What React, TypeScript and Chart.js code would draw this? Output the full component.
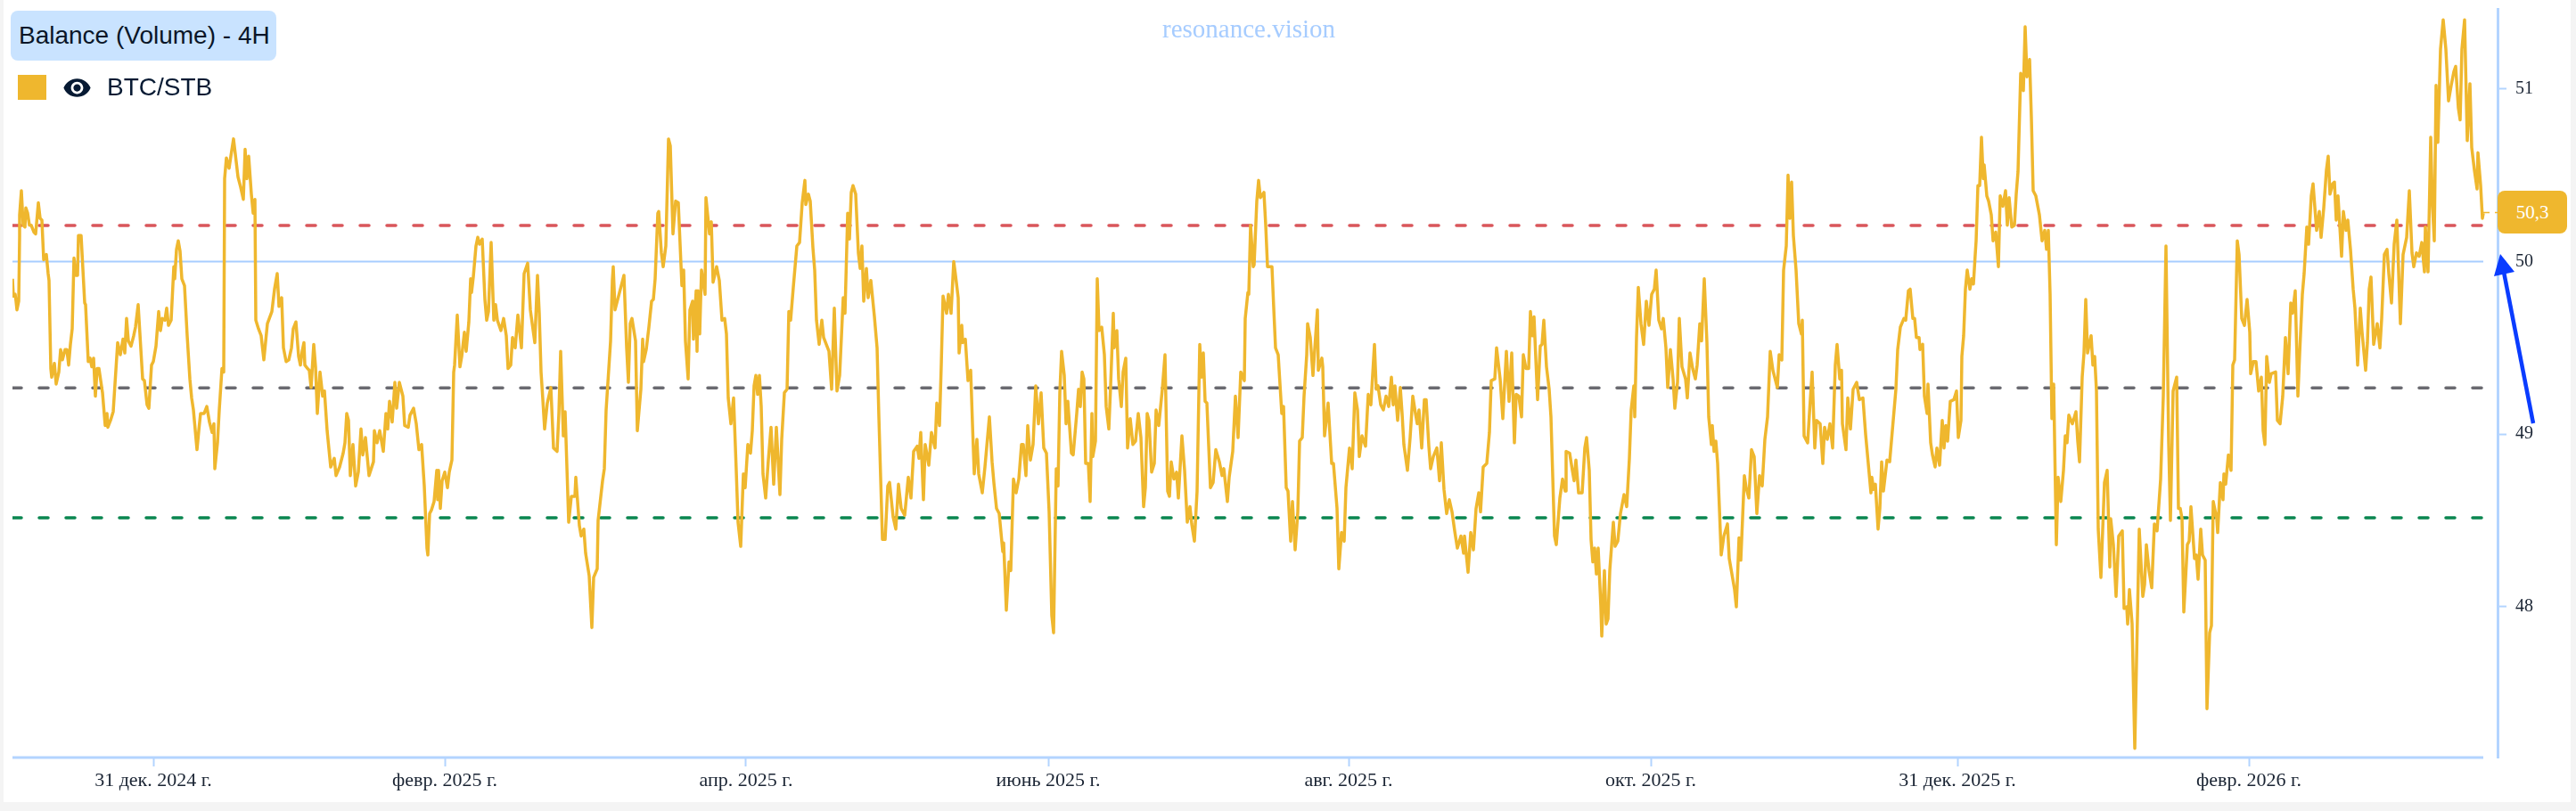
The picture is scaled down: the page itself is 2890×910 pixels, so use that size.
import { useRef, useEffect } from "react";
import { Chart, registerables } from "chart.js";

Chart.register(...registerables);

const AXIS_BLUE = "#b3d4ff";
const BTC_COLOR = "#efb72e";

// 4H bar index of every reading taken off the curve
const bars = [
  0,1,3,4,5,7,8,8,10,12,14,15,17,19,21,24,26,29,31,33,35,38,40,41,43,44,47,49,52,54,56,59,61,63,65,67,69,71,73,74,77,81,82,85,87,89,91,93,95,97,
  101,104,106,107,110,113,118,121,124,126,128,130,133,136,138,141,146,148,151,153,156,158,161,164,166,168,171,173,175,178,181,182,184,186,188,190,193,196,199,201,203,207,209,211,215,218,221,224,226,227,
  230,232,235,237,238,240,243,245,248,253,256,259,261,263,265,268,270,272,273,276,279,282,286,291,294,297,299,302,304,307,310,313,315,318,321,323,325,327,328,331,333,335,338,340,342,345,348,350,353,357,
  361,363,367,371,373,375,377,379,382,385,388,391,393,396,400,405,406,409,412,416,419,421,423,426,429,431,434,438,440,444,446,450,453,456,459,462,465,466,468,470,473,476,477,478,480,482,485,488,490,493,
  495,496,499,502,504,507,509,512,514,515,517,520,522,524,527,530,532,534,537,540,542,544,548,551,554,556,559,561,564,567,571,574,578,581,586,589,591,593,595,597,600,604,607,611,613,615,618,620,624,627,
  631,632,636,638,641,643,647,650,652,656,657,662,664,666,669,671,673,674,676,
  686,689,691,693,695,699,701,705,707,708,711,714,717,719,721,724,725,728,730,733,736,738,741,744,747,751,753,755,758,760,763,764,767,768,769,771,773,777,778,782,784,786,790,793,796,799,801,803,806,809,
  812,814,817,820,822,825,828,830,832,834,836,838,840,842,845,848,851,854,857,861,863,866,869,871,873,876,880,883,886,889,890,893,895,898,900,902,905,908,910,913,916,919,922,925,928,932,934,937,939,941,
  943,946,949,951,953,955,958,960,963,967,970,972,976,979,982,984,988,991,994,997,1001,1005,1008,1011,1015,1017,1019,1022,1024,1028,1031,1035,1037,1040,1042,1044,1048,1050,1053,1056,1058,1061,1062,1065,1066,1069,1072,1075,1077,1079,
  1082,1084,1088,1091,1096,1099,1101,1104,1107,1111,1112,1115,1118,1120,1123,1126,1129,1132,1134,1137,1139,1142,1145,1148,1151,1154,1157,1160,1163,1166,1168,1171,1173,1175,1177,1180,1182,1184,1188,1190,1194,1196,1198,1200,1202,1204,1207,1209,1211,1212,
  1215,1217,1219,1222,1225,1227,1230,1232,1235,1236,1239,1241,1244,1246,1249,1251,1254,1257,1260,1263,1266,1269,1271,1273,1275,1278,1281,1283,1286,1290,1293,1296,1298,1300,1303,1306,1308,1312,1315,1318,1321,1323,1326,1329,1332,1334,1336,1338,1340,1344,
  1347,1350,1354,1357,1359,1363,1365,1369,1372,1375,1378,1382,1383,1386,
  1387,1389,1392,1393,1396,1398,1400,1404,1406,1408,1413,1415,1417,1420,1424,1426,1429,1431,1434,1436,1439,1442,1444,1447,1449,1452,1453,1456,1459,1464,1465,1469,1470,1472,1476,1480,1482,1486,1488,1491,1494,1496,1500,1503,1506,1509,1511,1514,1518,1521,
  1524,1528,1530,1532,1535,1538,1541,1544,1547,1549,1551,1554,1557,1559,1561,1565,1568,1571,1574,1576,1578,1581,1584,1586,1589,1591,1594,1598,1601,1603,1606,1609,1612,1615,1618,1621,1625,1628,1629,1633,1636,1639,1642,1645,1647,1650,1654,1657,1659,1663,
  1665,1669,1672,1676,1679,1682,1685,1687,1690,1693,1695,1698,1701,1703,1705,1707,1711,1714,1716,1718,1721,1724,1726,1730,1732,1736,1739,1742,1743,1747,1750,1752,1754,1757,1761,1764,1766,1769,1771,1773,1775,1777,1779,1782,1783,1786,1788,1790,1792,1796,
  1798,1801,1804,1808,1811,1814,1816,1819,1820,1822,1824,1827,1830,1833,1836,1839,1842,1844,1847,1850,1852,1855,1857,1860,1863,1865,1868,1870,1873,1877,1879,1882,1885,1888,1890,1893,1895,1898,1901,1903,1906,1907,1909,1911,1913,1915,1917,1920,1924,1926,
  1929,1932,1934,1937,1939,1943,1945,1948,1951,1954,1957,1960,1963,1966,1969,1972,1975,1980,1982,1985,1987,1990,1992,1994,1996,1998,2001,2004,2007,2008,2010,2014,2016,2019,2022,2024,2028,2031,2033,2036,2039,2042,2045,2047,2050,2052,2053,2057,2059,2062,
  2065,2069,2072,2076,2079,2082,2085,
  2086,2088,2090,2093,2095,2097,2099,2103,2106,2109,2113,2115,2118,2122,2124,2127,2129,2132,2134,2136,2139,2140,2143,2145,2148,2149,2152,2154,2157,2159,2162,2165,2167,2169,2171,2174,2178,2181,2183,2186,2187,2189,2191,2193,2196,2198,2200,2202,2203,2205,
  2207,2209,2211,2212,2215,2217,2220,2222,2225,2228,2230,2233,2236,2238,2240,2243,2246,2248,2250,2253,2256,2258,2260,2263,2265,2267,2270,2274,2277,2280,2282,2284,2286,2288,2290,2293,2295,2298,2301,2303,2305,2307,2311,2315,2317,2319,2322,2324,2326,2328,
  2332,2334,2336,2338,2340,2343,2347,2350,2353,2354,2357,2360,2363,2367,2369,2372,2373,2375,2378,2381,2382,2386,2390,2392,2394,2397,2400,2403,2406,2410,2413,2416,2419,2421,2424,2428,2430,2432,2434,2436,2440,2442,2444,2448,2450,2452,2455,2457,2460,2462,
  2465,2467,2469,2473,2474,2477,2480,2481,2483,2486,2489,2491,2493,2496,2498,2501,2504,2507,2510,2511,2514,2517,2520,2523,2525,2527,2529,2532,2534,2539,2541,2544,2547,2550,2553,2556,2558,2561,2564,2566,2569,2571,2574,2576,2579,2581,2585,2588,2590,2593,
  2596,2598,2600,2603,2605,2607,2609,2613,2615,2618,2620,2623,2626,2628,2631,2634,2636,2640,2642,2644,2646,2649,2653,2656,2658,2661,2664,2666,2669,2672,2675,2679,2682,2686,2689,2692,2694,2697,2700,2703,2706,2707,2710,2713,2715,2717,2719,2721,2724,2727,
  2730,2733,2736,2739,2741,2744,2746,2748,2751,2754,2757,2759,2762,2765,2766,2769,2771,2772,
];

const balance = [
  49.90,49.80,49.81,49.77,49.72,49.77,50.15,50.27,50.41,50.21,50.20,50.31,50.28,50.21,50.21,50.17,50.16,50.34,50.25,50.24,50.01,50.04,49.93,49.89,49.38,49.33,49.41,49.29,49.36,49.49,49.43,49.49,49.49,49.40,49.52,49.61,50.02,49.92,49.92,50.15,50.15,49.76,49.75,49.42,49.44,49.39,49.44,49.22,49.38,49.38,
  49.24,49.05,49.12,49.04,49.08,49.13,49.53,49.46,49.55,49.47,49.67,49.54,49.51,49.57,49.62,49.75,49.32,49.31,49.17,49.15,49.40,49.42,49.51,49.71,49.60,49.67,49.66,49.73,49.63,49.66,49.97,49.90,50.07,50.12,50.06,49.90,49.86,49.57,49.32,49.21,49.14,48.91,49.02,49.12,49.12,49.16,49.07,49.01,49.06,48.80,
  48.95,49.14,49.38,49.36,50.48,50.60,50.54,50.61,50.71,50.49,50.43,50.36,50.65,50.48,50.61,50.39,50.28,50.36,49.66,49.61,49.57,49.43,49.64,49.71,49.84,49.93,49.74,49.79,49.50,49.42,49.43,49.50,49.61,49.65,49.45,49.40,49.48,49.53,49.40,49.38,49.37,49.27,49.52,49.39,49.12,49.36,49.22,49.25,49.02,48.81,
  48.86,48.76,48.81,48.89,48.95,49.12,49.08,48.76,48.94,48.70,48.78,49.03,48.88,48.98,48.76,48.84,49.02,48.95,49.02,48.90,49.12,49.03,49.19,49.07,49.30,49.15,49.30,49.22,49.05,49.04,49.11,49.15,49.06,48.91,48.94,48.70,48.34,48.30,48.54,48.56,48.61,48.79,48.62,48.79,48.57,48.73,48.78,48.69,48.78,48.85,
  49.36,49.40,49.69,49.39,49.45,49.59,49.48,49.65,49.90,49.82,49.91,50.09,50.14,50.10,50.13,49.78,49.66,49.71,50.11,49.66,49.75,49.66,49.60,49.67,49.57,49.38,49.40,49.56,49.50,49.69,49.50,49.93,49.99,49.72,49.53,49.92,49.70,49.36,49.20,49.03,49.18,49.27,48.92,48.90,49.12,49.48,48.99,49.13,48.49,48.64,
  48.64,48.75,48.47,48.41,48.45,48.31,48.18,47.88,48.17,48.22,48.50,48.73,48.80,49.14,49.38,49.54,49.89,49.97,49.72,
  49.92,49.50,49.30,49.64,49.67,49.54,49.02,49.26,49.55,49.42,49.49,49.62,49.77,49.78,49.90,50.28,50.29,50.05,49.97,50.09,50.71,50.67,50.16,50.35,50.34,49.86,49.95,49.54,49.32,49.72,49.77,49.55,49.83,49.48,49.83,49.58,49.95,49.81,50.37,50.16,50.23,49.88,49.97,49.89,49.66,49.67,49.58,49.21,49.06,49.21,
  48.79,48.49,48.35,48.77,48.69,48.94,48.89,49.02,49.28,49.34,49.23,49.34,49.16,48.77,48.63,48.85,49.04,48.71,49.04,48.65,48.97,49.24,49.26,49.71,49.66,49.85,50.09,50.11,50.34,50.47,50.33,50.39,50.35,50.08,49.95,49.66,49.52,49.66,49.56,49.52,49.48,49.26,49.73,49.25,49.34,49.79,49.70,50.28,50.13,50.40,
  50.44,50.39,50.05,49.96,50.09,49.77,49.96,49.79,49.89,49.68,49.50,49.10,48.39,48.39,48.70,48.72,48.52,48.45,48.71,48.57,48.53,48.75,48.63,48.90,48.93,48.86,49.01,48.62,48.94,48.82,49.01,48.92,49.18,49.05,49.40,49.80,49.70,49.81,49.70,50.00,49.92,49.79,49.47,49.63,49.53,49.55,49.31,49.37,49.06,48.77,
  48.97,48.77,48.66,48.81,49.10,48.84,48.72,48.57,48.54,48.32,48.37,47.98,48.26,48.21,48.74,48.66,48.74,48.94,48.94,48.76,49.05,48.85,48.94,49.28,49.06,49.24,48.92,48.89,48.55,47.95,47.85,48.80,48.70,49.24,49.48,49.34,49.06,49.19,48.89,48.88,49.12,49.26,49.16,49.36,49.32,48.83,48.83,48.61,49.12,48.87,
  48.96,49.90,49.60,49.62,49.46,49.16,49.03,49.28,49.70,49.50,49.60,49.32,49.16,49.36,49.44,48.92,49.09,48.94,48.96,49.12,48.98,48.58,48.69,49.12,49.08,48.78,48.83,49.14,49.05,49.26,49.46,48.67,48.64,48.84,48.74,48.78,48.63,48.99,48.79,48.49,48.58,48.48,48.38,48.67,49.52,49.33,49.47,49.19,49.18,48.69,
  48.72,48.91,48.84,48.76,48.80,48.61,48.75,48.90,49.22,48.98,49.36,49.31,49.67,49.82,
  49.81,50.21,49.97,49.98,50.35,50.47,50.37,50.40,50.21,49.97,49.97,49.73,49.50,49.46,49.12,49.16,48.69,48.67,48.38,48.61,48.33,48.55,48.96,48.98,49.22,49.46,49.64,49.56,49.34,49.72,49.37,49.44,49.39,48.99,49.18,48.83,48.83,48.57,48.22,48.43,48.38,48.69,48.92,48.80,49.24,49.14,48.87,48.99,48.93,49.23,
  49.17,49.52,49.26,49.28,49.17,49.14,49.22,49.16,49.33,49.17,49.28,49.08,49.27,49.12,48.94,48.79,48.98,49.22,49.12,49.06,49.14,48.92,49.20,49.20,48.93,48.80,48.87,48.92,48.73,48.95,48.68,48.54,48.62,48.55,48.44,48.34,48.41,48.31,48.41,48.20,48.43,48.33,48.57,48.66,48.55,48.81,48.83,49.01,49.31,49.32,
  49.50,49.32,49.09,49.48,49.19,49.47,48.95,49.23,49.22,49.10,49.46,49.38,49.38,49.71,49.57,49.68,49.20,49.51,49.52,49.66,49.39,49.26,49.10,48.41,48.36,48.63,48.74,48.67,48.90,48.89,48.79,48.73,48.85,48.66,48.66,48.92,48.98,48.79,48.39,48.26,48.34,48.19,48.34,48.00,47.83,48.21,47.90,47.93,48.21,48.49,
  48.35,48.38,48.54,48.65,48.58,48.86,49.14,49.28,49.10,49.56,49.85,49.64,49.52,49.77,49.63,49.81,49.84,49.95,49.66,49.61,49.67,49.50,49.27,49.49,49.32,49.15,49.30,49.67,49.39,49.32,49.21,49.47,49.38,49.32,49.40,49.64,49.54,49.90,49.53,49.10,48.94,49.05,48.90,48.96,48.83,48.57,48.30,48.41,48.48,48.28,
  48.19,48.10,48.00,48.40,48.27,48.76,48.69,48.63,48.91,48.87,48.54,48.76,48.70,48.97,49.10,49.48,49.37,49.27,49.46,49.43,49.95,50.09,50.50,50.25,50.46,50.15,49.95,49.64,49.58,49.66,48.99,48.95,49.12,49.36,48.92,49.08,49.06,48.83,49.04,48.97,49.06,48.92,49.40,49.52,49.32,49.37,49.06,48.91,49.21,49.03,
  49.26,49.30,49.20,49.21,49.00,48.83,48.66,
  48.75,48.68,48.71,48.45,48.57,48.84,48.67,48.85,48.84,49.02,49.26,49.49,49.62,49.67,49.66,49.83,49.84,49.67,49.67,49.56,49.56,49.49,49.52,49.22,49.12,49.29,48.95,48.88,48.81,48.92,48.82,49.08,48.92,49.05,48.96,49.19,49.20,49.25,48.98,49.08,49.45,49.57,49.84,49.95,49.84,49.90,49.87,50.04,50.12,50.44,
  50.44,50.72,50.48,50.56,50.38,50.35,50.27,50.12,50.17,49.97,50.38,50.32,50.41,50.21,50.37,50.20,50.21,50.39,50.52,51.09,50.99,51.36,51.07,51.17,50.83,50.41,50.38,50.27,50.12,50.18,50.07,50.18,49.81,49.09,49.29,48.36,48.75,48.61,48.79,48.99,48.95,49.11,49.06,49.13,48.96,48.84,49.33,49.47,49.78,49.47,
  49.57,49.40,49.45,49.25,48.45,48.17,48.72,48.79,48.23,48.51,48.36,48.06,48.41,48.44,47.99,48.00,47.90,48.10,47.90,47.18,47.44,48.45,48.06,48.13,48.36,48.21,48.11,48.48,48.44,48.74,49.22,50.09,48.95,48.50,49.25,49.33,48.57,48.57,48.51,47.97,48.36,48.38,48.58,48.28,48.30,48.16,48.45,48.30,48.27,47.41,
  47.85,47.89,48.61,48.51,48.43,48.72,48.62,48.77,48.71,48.88,48.79,49.40,49.43,50.12,50.04,49.67,49.63,49.78,49.59,49.35,49.42,49.42,49.25,49.33,49.02,48.94,49.45,49.30,49.35,49.36,49.08,49.06,49.22,49.56,49.35,49.76,49.70,49.83,49.22,49.47,49.81,49.93,50.20,50.10,50.38,50.45,50.18,50.29,50.14,50.31,
  50.53,50.61,50.39,50.45,50.46,50.24,50.38,50.03,50.29,50.18,50.24,50.07,49.84,49.73,49.40,49.73,49.59,49.37,49.53,49.84,49.91,49.52,49.64,49.50,49.67,50.04,50.07,49.93,49.76,50.10,50.24,49.64,50.04,50.14,50.41,50.05,49.97,50.05,50.03,50.11,49.94,50.20,49.94,50.72,50.32,50.12,51.02,50.69,51.23,51.40,
  51.23,50.93,51.02,51.10,51.13,50.89,50.82,51.23,51.40,50.70,51.03,50.66,50.53,50.42,50.63,50.44,50.25,50.28,
];

const xTickBars = [158, 485, 823, 1162, 1499, 1838, 2182, 2509];
const xTickLabels = [
  "31 дек. 2024 г.",
  "февр. 2025 г.",
  "апр. 2025 г.",
  "июнь 2025 г.",
  "авг. 2025 г.",
  "окт. 2025 г.",
  "31 дек. 2025 г.",
  "февр. 2026 г.",
];
const yTicks = [48, 49, 50, 51];

const firstBar = 0;
const lastBar = 2772;
const axisEndBar = 2788;
const yMin = 47.127;
const yMax = 51.463;

const overbought = 50.209;
const middle = 49.268;
const oversold = 48.515;
const parity = 50;
const lastValue = 50.284;

const hline = (value: number, from = firstBar, to = lastBar) => [
  { x: from, y: value },
  { x: to, y: value },
];

function BalanceChart() {
  const canvasRef = useRef<HTMLCanvasElement>(null);

  useEffect(() => {
    if (!canvasRef.current) return;
    const dashed = { borderWidth: 3.5, borderDash: [10, 20], borderCapStyle: "round" as const };

    const chart = new Chart(canvasRef.current, {
      type: "line",
      data: {
        datasets: [
          {
            label: "BTC/STB",
            data: bars.map((x, i) => ({ x, y: balance[i] })),
            borderColor: BTC_COLOR,
            borderWidth: 3.5,
            borderJoinStyle: "round",
          },
          { label: "last", data: hline(lastValue, lastBar, axisEndBar), borderColor: BTC_COLOR, borderWidth: 1.5, borderDash: [7, 6] },
          { label: "overbought", data: hline(overbought), borderColor: "#d9565b", ...dashed },
          { label: "middle", data: hline(middle), borderColor: "#6a6a70", ...dashed },
          { label: "oversold", data: hline(oversold), borderColor: "#0a8650", ...dashed },
          { label: "parity", data: hline(parity), borderColor: "#a8cdff", borderWidth: 2 },
          { label: "xAxis", data: hline(yMin), borderColor: AXIS_BLUE, borderWidth: 3, clip: false },
        ],
      },
      options: {
        responsive: false,
        animation: false,
        parsing: false,
        layout: { padding: { left: 14, top: 10, right: 0, bottom: 0 } },
        elements: { point: { radius: 0 }, line: { tension: 0 } },
        plugins: { legend: { display: false }, tooltip: { enabled: false } },
        scales: {
          x: {
            type: "linear",
            min: firstBar,
            max: axisEndBar,
            afterFit: (scale) => {
              scale.height = 60;
              scale.paddingLeft = 0;
              scale.paddingRight = 0;
            },
            afterBuildTicks: (scale) => {
              scale.ticks = xTickBars.map((value) => ({ value }));
            },
            border: { display: false },
            grid: { drawOnChartArea: false, color: AXIS_BLUE, tickLength: 10, tickWidth: 2 },
            ticks: {
              autoSkip: false,
              maxRotation: 0,
              padding: 3,
              color: "#1a2433",
              font: { family: "'Liberation Serif'", size: 22 },
              callback: (value) => xTickLabels[xTickBars.indexOf(Number(value))],
            },
          },
          y: {
            position: "right",
            min: yMin,
            max: yMax,
            afterFit: (scale) => {
              scale.width = 88;
              scale.paddingTop = 0;
              scale.paddingBottom = 0;
            },
            afterBuildTicks: (scale) => {
              scale.ticks = yTicks.map((value) => ({ value }));
            },
            border: { display: true, color: AXIS_BLUE, width: 3 },
            grid: { drawOnChartArea: false, color: AXIS_BLUE, tickLength: 10, tickWidth: 2 },
            ticks: {
              padding: 10,
              color: "#1a2433",
              font: { family: "'Liberation Serif'", size: 20 },
            },
          },
        },
      },
    });

    return () => {
      chart.destroy();
    };
  }, []);

  return <canvas ref={canvasRef} width={2890} height={910} style={{ position: "absolute", left: 0, top: 0 }} />;
}

export default function App() {
  return (
    <div style={{ position: "fixed", inset: 0, background: "#f4f4f4", overflow: "hidden" }}>
      <div style={{ position: "absolute", left: 4, top: 0, width: 2880, height: 900, background: "#fff" }} />
      <BalanceChart />

      <div
        style={{
          position: "absolute",
          left: 1304,
          top: 16,
          fontFamily: "'Liberation Serif'",
          fontSize: 29,
          lineHeight: "33px",
          color: "#a6ccff",
          whiteSpace: "nowrap",
        }}
      >
        resonance.vision
      </div>

      <div
        style={{
          position: "absolute",
          left: 12,
          top: 12,
          width: 298,
          height: 56,
          boxSizing: "border-box",
          paddingLeft: 9,
          borderRadius: 8,
          background: "#c9e3ff",
          fontFamily: "'Liberation Sans'",
          fontSize: 28,
          lineHeight: "56px",
          color: "#0a1628",
          whiteSpace: "nowrap",
        }}
      >
        Balance (Volume) - 4H
      </div>

      <div style={{ position: "absolute", left: 20, top: 84, width: 32, height: 28, background: BTC_COLOR }} />
      <svg width={33} height={33} viewBox="0 0 24 24" style={{ position: "absolute", left: 70, top: 81.5 }}>
        <path
          fill="#071a33"
          d="M12 4.5C7 4.5 2.73 7.61 1 12c1.73 4.39 6 7.5 11 7.5s9.27-3.11 11-7.5c-1.73-4.39-6-7.5-11-7.5zM12 17c-2.76 0-5-2.24-5-5s2.24-5 5-5 5 2.24 5 5-2.24 5-5 5zm0-8c-1.66 0-3 1.34-3 3s1.34 3 3 3 3-1.34 3-3-1.34-3-3-3z"
        />
      </svg>
      <div
        style={{
          position: "absolute",
          left: 120,
          top: 82,
          fontFamily: "'Liberation Sans'",
          fontSize: 28,
          lineHeight: "32px",
          color: "#071a33",
          whiteSpace: "nowrap",
        }}
      >
        BTC/STB
      </div>

      <div
        style={{
          position: "absolute",
          left: 2802,
          top: 214,
          width: 78,
          height: 48,
          borderRadius: 8,
          background: BTC_COLOR,
          color: "#fff",
          fontFamily: "'Liberation Serif'",
          fontSize: 21,
          lineHeight: "48px",
          textAlign: "center",
        }}
      >
        50,3
      </div>

      <svg width={2890} height={910} style={{ position: "absolute", left: 0, top: 0, pointerEvents: "none" }}>
        <line x1={2842} y1={475} x2={2808} y2={300} stroke="#0a3cff" strokeWidth={4.5} />
        <polygon points="2805,285 2798,310 2821,305" fill="#0a3cff" />
      </svg>
    </div>
  );
}
